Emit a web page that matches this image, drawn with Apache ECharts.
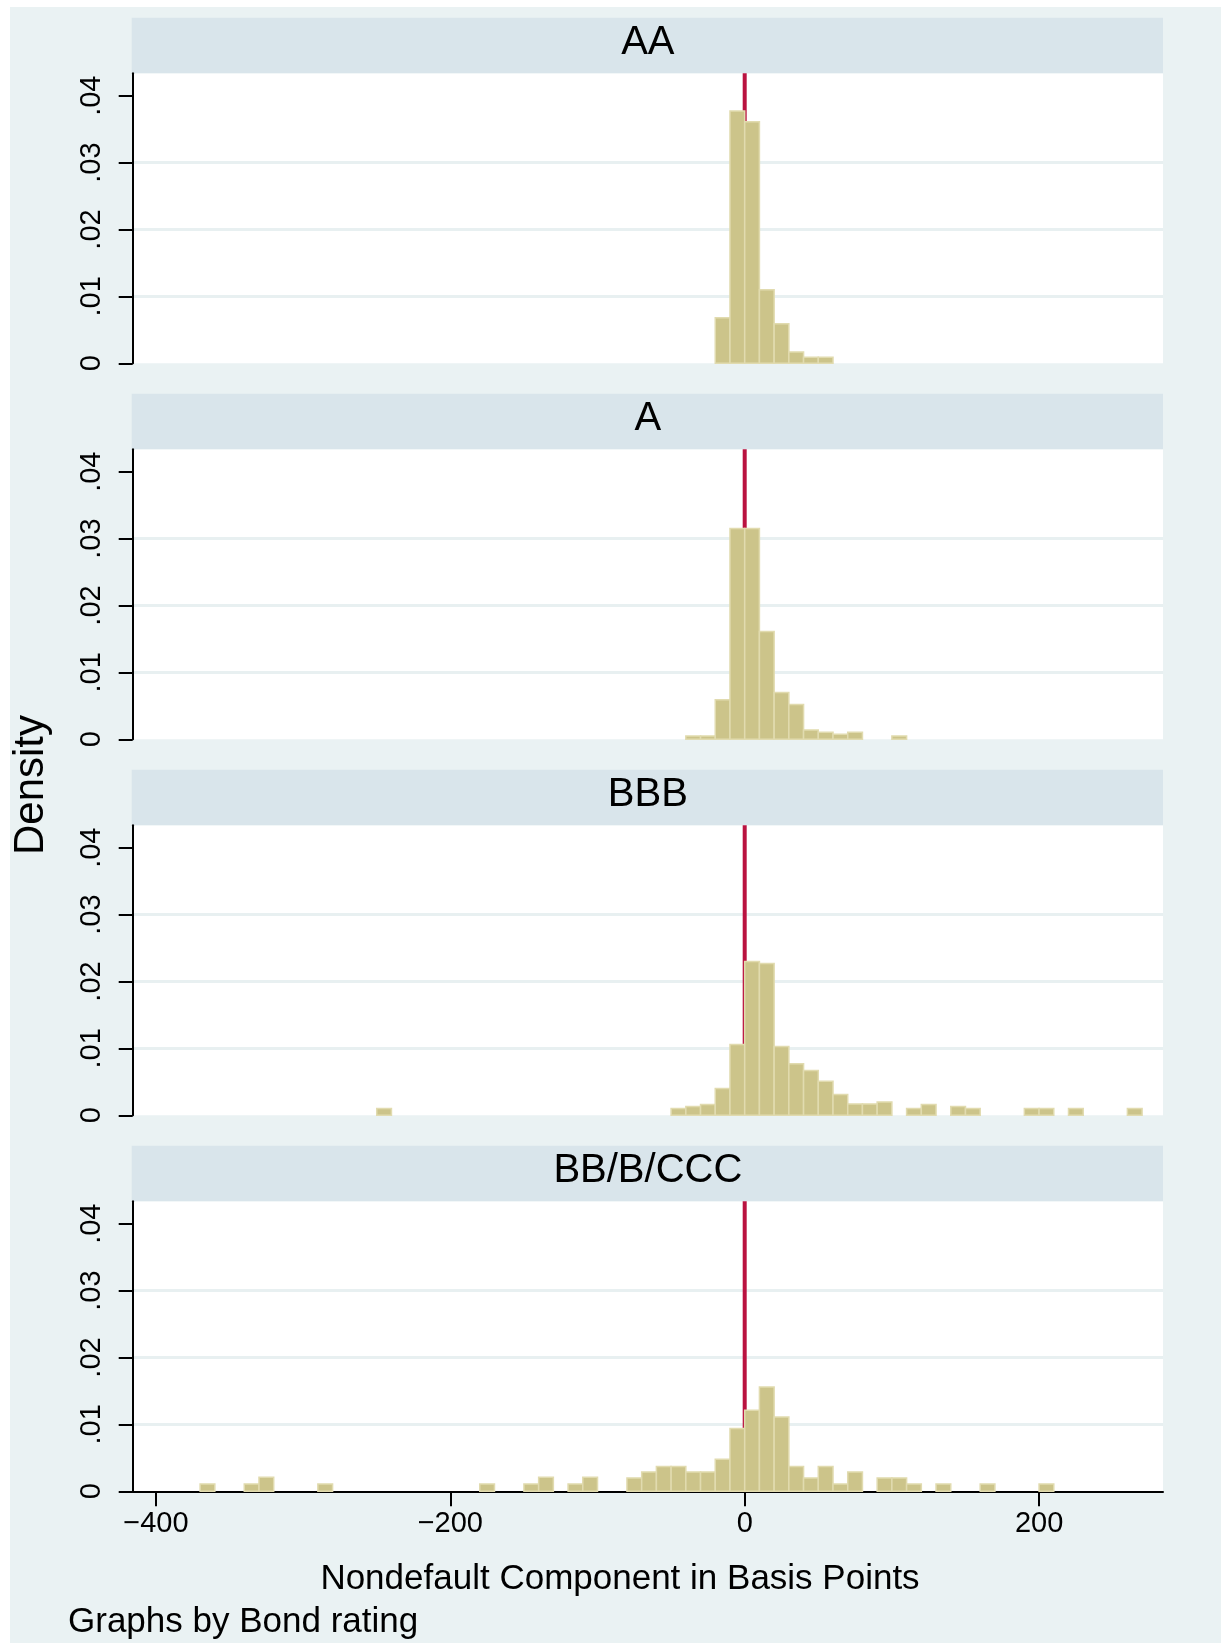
<!DOCTYPE html>
<html>
<head>
<meta charset="utf-8">
<script src="https://cdn.jsdelivr.net/npm/echarts@6/dist/echarts.min.js"></script>
<style>
  html, body { margin: 0; padding: 0; background: #ffffff; }
  #bg { position: absolute; left: 10px; top: 7px; width: 1211px; height: 1636px; background: #EAF2F3; }
  #chart { position: absolute; left: 0; top: 0; width: 1221px; height: 1643px; }
</style>
</head>
<body>
<div id="bg"></div>
<div id="chart"></div>
<script>
// ---------------- data ----------------
const panelTitles = ['AA', 'A', 'BBB', 'BB/B/CCC'];
const binWidth = 10;                       // histogram bin width (basis points)
const xTicks = [-400, -200, 0, 200];
const yTicks = [0, 0.01, 0.02, 0.03, 0.04];
const refLineX = 0;                        // vertical reference line

// lower edge of each non-empty bin and its density
const aaBinStarts = [-20, -10, 0, 10, 20, 30, 40, 50];
const aaDensity   = [0.0068, 0.0377, 0.0361, 0.0110, 0.0059, 0.0017, 0.0009, 0.0009];

const aBinStarts = [-40, -30, -20, -10, 0, 10, 20, 30, 40, 50, 60, 70, 100];
const aDensity   = [0.0005, 0.0005, 0.0059, 0.0315, 0.0315, 0.0161, 0.0070, 0.0052, 0.0014, 0.00105, 0.00075, 0.00105, 0.0005];

const bbbBinStarts = [-250, -50, -40, -30, -20, -10, 0, 10, 20, 30, 40, 50, 60, 70, 80, 90, 110, 120, 140, 150, 190, 200, 220, 260];
const bbbDensity   = [0.0010, 0.0010, 0.0013, 0.0016, 0.0040, 0.0106, 0.0230, 0.0227, 0.0103, 0.0077, 0.0067, 0.0051, 0.0031, 0.0017, 0.0017, 0.0020, 0.0010, 0.0016, 0.0013, 0.0010, 0.0010, 0.0010, 0.0010, 0.0010];

const bbBinStarts = [-370, -340, -330, -290, -180, -150, -140, -120, -110, -80, -70, -60, -50, -40, -30, -20, -10, 0, 10, 20, 30, 40, 50, 60, 70, 90, 100, 110, 130, 160, 200];
const bbDensity   = [0.0011, 0.0011, 0.0021, 0.0011, 0.0011, 0.0011, 0.0021, 0.0011, 0.0021, 0.0020, 0.0029, 0.0037, 0.0037, 0.0029, 0.0029, 0.0048, 0.0094, 0.0121, 0.0156, 0.0111, 0.0037, 0.0020, 0.0037, 0.0011, 0.0029, 0.0020, 0.0020, 0.0011, 0.0011, 0.0011, 0.0011];

const panelStarts = [aaBinStarts, aBinStarts, bbbBinStarts, bbBinStarts];
const panelDensity = [aaDensity, aDensity, bbbDensity, bbDensity];

// ---------------- layout / style ----------------
const FONT = '"Liberation Sans", Arial, Helvetica, sans-serif';
const X_MIN = -415.8, X_MAX = 284.2, Y_MAX = 0.04335;
const plotLeft = 132.7, plotRight = 1163, plotH = 290, firstTop = 73.3, step = 376, stripH = 55.6;
const barFill = '#CCC48A', barStroke = '#E1DBAF';
const gridColor = '#E8F0F1', stripColor = '#D9E5EB', refColor = '#BA1240';

const chart = echarts.init(document.getElementById('chart'), null, { renderer: 'canvas', width: 1221, height: 1643 });

const grids = [], xAxes = [], yAxes = [], series = [], graphics = [];

function yFmt(v) {
  if (Math.abs(v) < 1e-12) return '0';
  return '.' + String(Math.round(v * 100)).padStart(2, '0');
}

function renderBar(params, api) {
  const x0 = api.value(0), d = api.value(1);
  const p0 = api.coord([x0, d]);
  const p1 = api.coord([x0 + binWidth, 0]);
  return {
    type: 'rect',
    shape: { x: p0[0], y: p0[1], width: p1[0] - p0[0], height: p1[1] - p0[1] },
    style: { fill: barFill, stroke: barStroke, lineWidth: 1.5 }
  };
}

for (let i = 0; i < 4; i++) {
  const top = firstTop + step * i;
  const isLast = i === 3;
  grids.push({ left: plotLeft, top: top, width: plotRight - plotLeft, height: plotH,
    show: true, backgroundColor: '#ffffff', borderWidth: 0, containLabel: false });

  xAxes.push({
    type: 'value', gridIndex: i, min: X_MIN, max: X_MAX, show: isLast,
    axisLine: { show: true, onZero: false, lineStyle: { color: '#000', width: 2 } },
    axisTick: { show: true, length: 15, lineStyle: { color: '#000', width: 2 }, customValues: xTicks },
    axisLabel: { show: true, customValues: xTicks, fontSize: 29, fontFamily: FONT, color: '#000', margin: 18,
      formatter: v => String(v).replace('-', '\u2212') },
    splitLine: { show: false }
  });

  yAxes.push({
    type: 'value', gridIndex: i, min: 0, max: Y_MAX, interval: 0.01,
    axisLine: { show: true, onZero: false, lineStyle: { color: '#000', width: 2 } },
    axisTick: { show: true, length: 14, lineStyle: { color: '#000', width: 2 }, customValues: yTicks },
    axisLabel: { show: true, customValues: yTicks, rotate: 90, fontSize: 29, fontFamily: FONT, color: '#000', margin: 26,
      formatter: yFmt },
    splitLine: { show: true, showMinLine: false, showMaxLine: false, lineStyle: { color: gridColor, width: 3 } }
  });

  series.push({
    type: 'line', xAxisIndex: i, yAxisIndex: i, z: 1, silent: true,
    data: [[refLineX, 0], [refLineX, Y_MAX]],
    symbol: 'none', lineStyle: { color: refColor, width: 4 }
  });

  series.push({
    type: 'custom', xAxisIndex: i, yAxisIndex: i, z: 2, silent: true,
    renderItem: renderBar,
    data: panelStarts[i].map((s, j) => [s, panelDensity[i][j]])
  });

  // strip header
  const stripTop = top - stripH;
  graphics.push({ type: 'rect', z: 0, silent: true,
    shape: { x: plotLeft - 1, y: stripTop, width: plotRight - plotLeft + 1, height: stripH },
    style: { fill: stripColor } });
  graphics.push({ type: 'text', z: 1, silent: true, x: (plotLeft + plotRight) / 2, y: stripTop + 25,
    style: { text: panelTitles[i], fontSize: 40, fontFamily: FONT, fill: '#000', align: 'center', verticalAlign: 'middle' } });
}

graphics.push({ type: 'text', silent: true, x: 31.5, y: 785, rotation: Math.PI / 2,
  style: { text: 'Density', fontSize: 42, fontFamily: FONT, fill: '#000', align: 'center', verticalAlign: 'middle' } });
graphics.push({ type: 'text', silent: true, x: 620, y: 1579,
  style: { text: 'Nondefault Component in Basis Points', fontSize: 35, fontFamily: FONT, fill: '#000', align: 'center', verticalAlign: 'middle' } });
graphics.push({ type: 'text', silent: true, x: 68, y: 1622,
  style: { text: 'Graphs by Bond rating', fontSize: 35, fontFamily: FONT, fill: '#000', align: 'left', verticalAlign: 'middle' } });

chart.setOption({
  backgroundColor: 'transparent',
  animation: false,
  grid: grids,
  xAxis: xAxes,
  yAxis: yAxes,
  series: series,
  graphic: { elements: graphics }
});
</script>
</body>
</html>
